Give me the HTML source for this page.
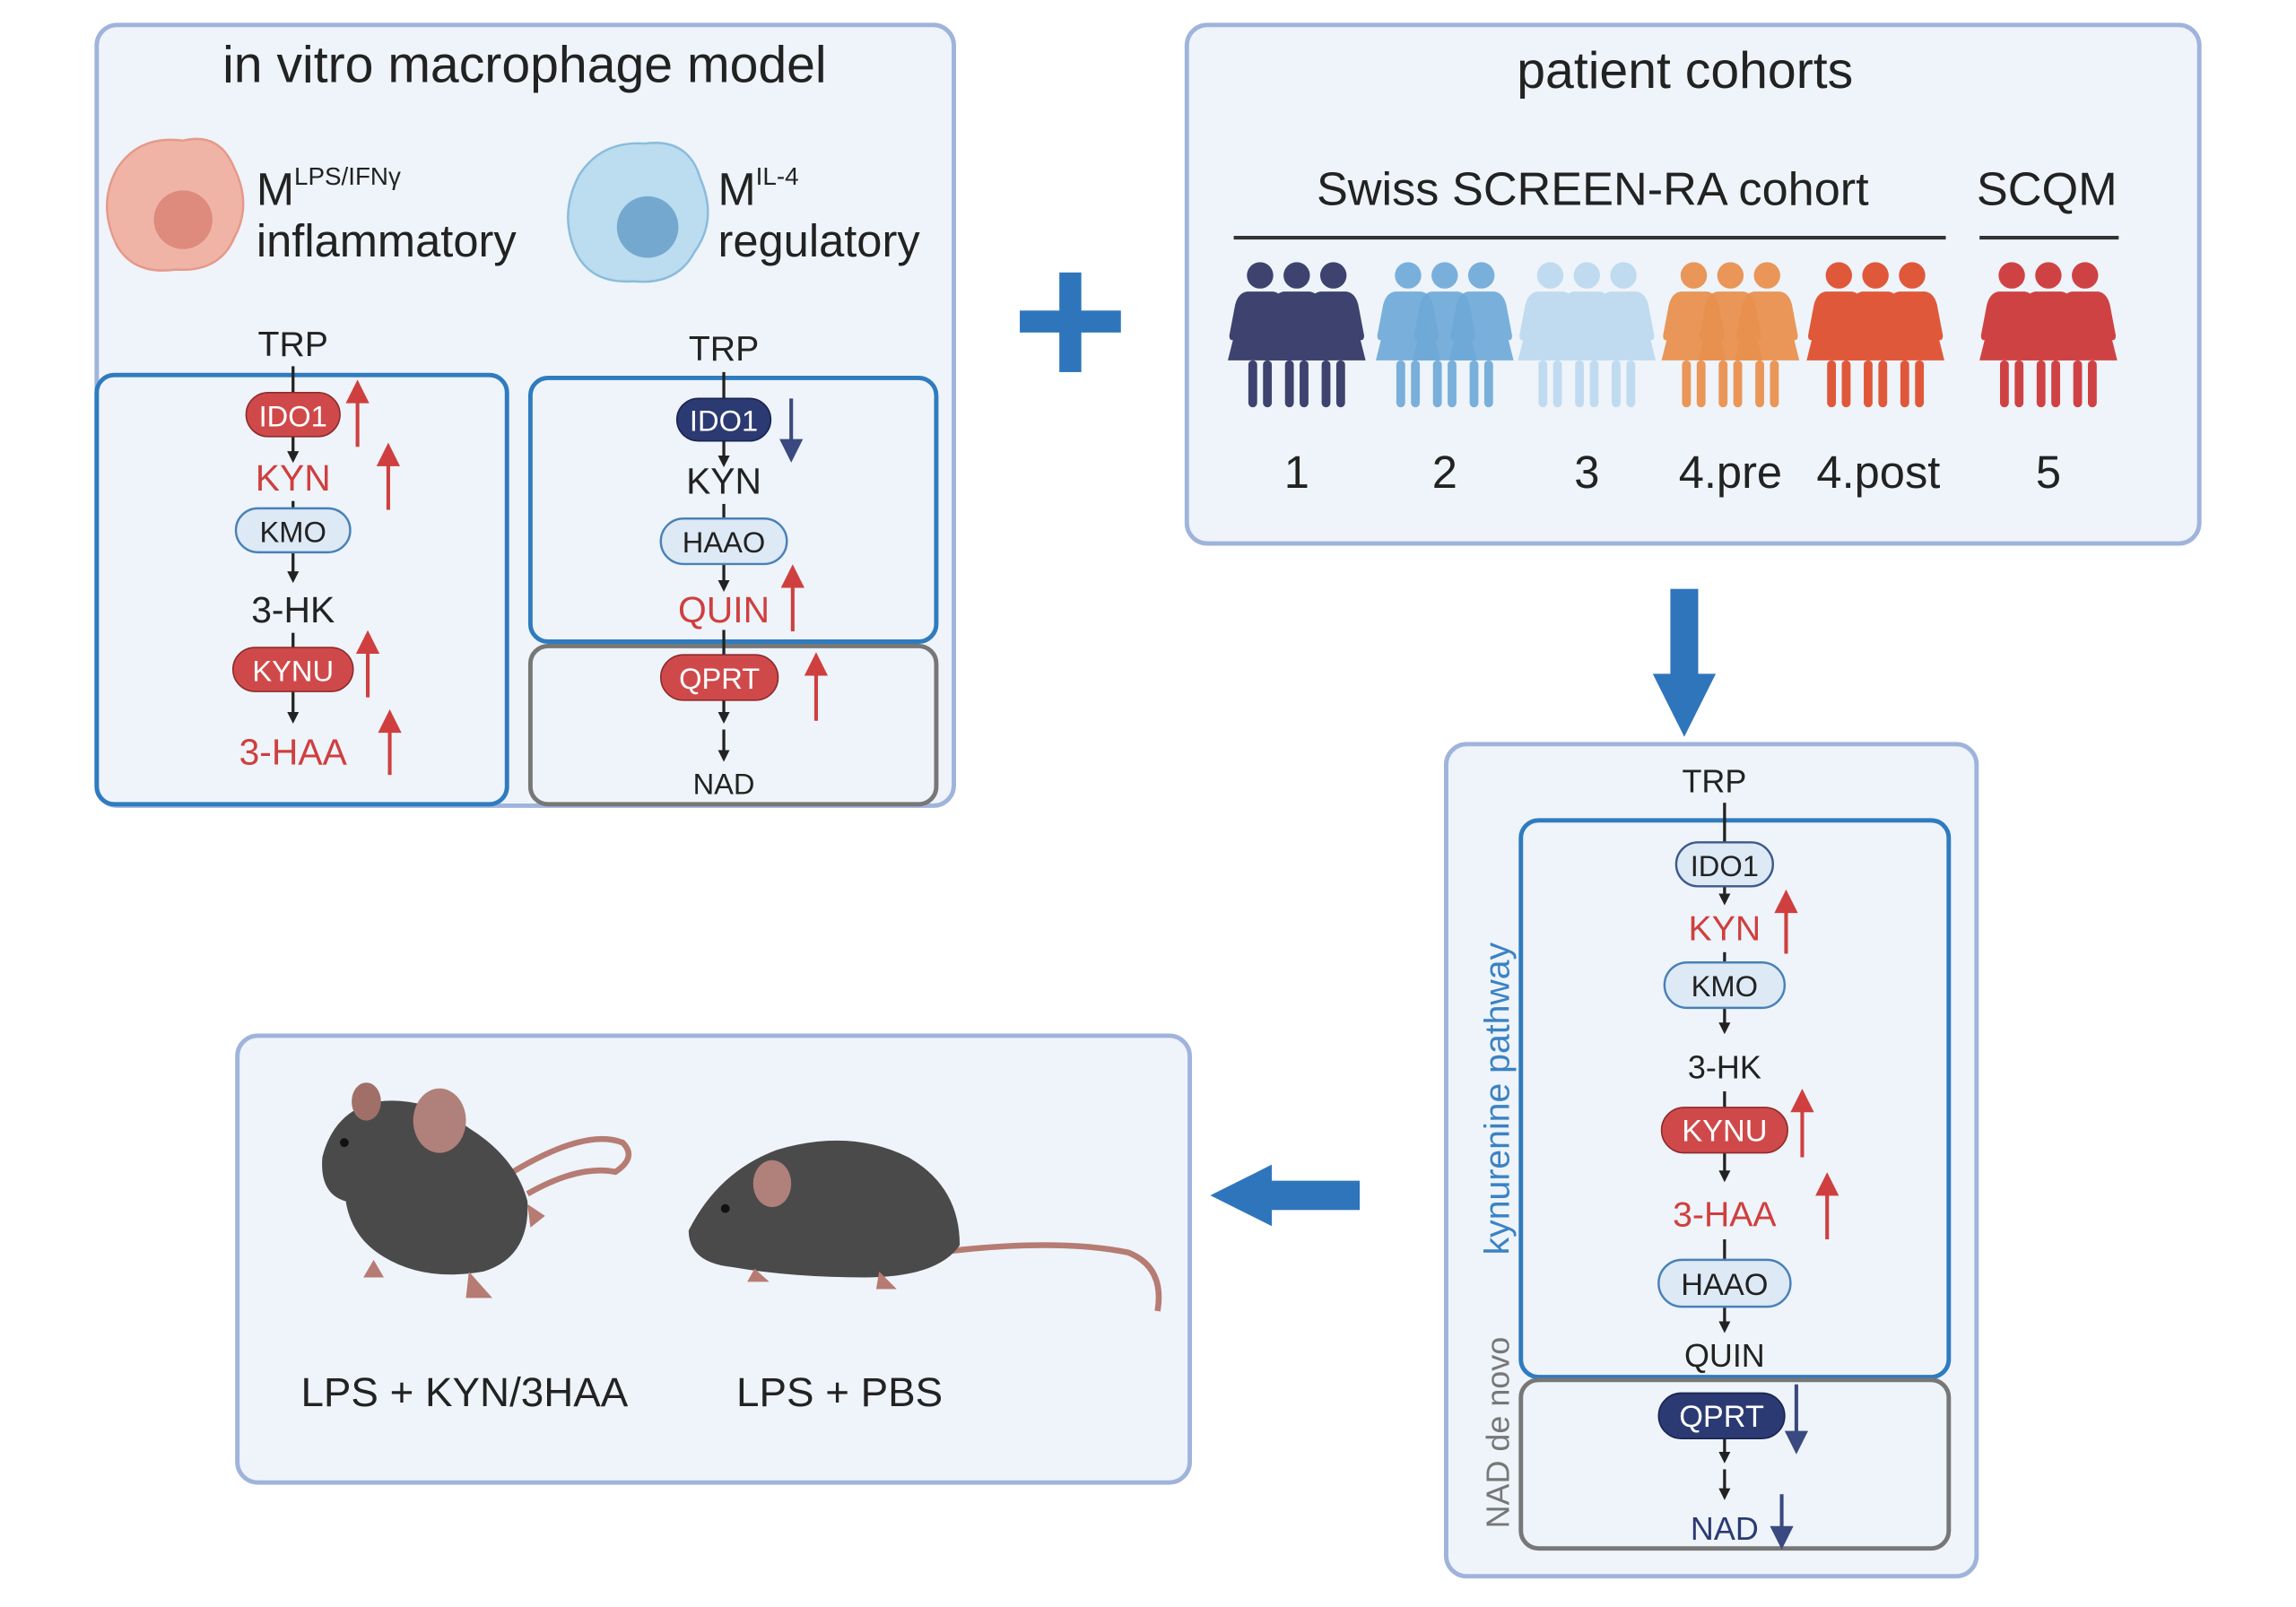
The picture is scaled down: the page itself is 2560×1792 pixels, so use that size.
<!DOCTYPE html>
<html><head><meta charset="utf-8"><style>
html,body{margin:0;padding:0;background:#fff;}
svg{display:block;}
text{font-family:"Liberation Sans",sans-serif;}
</style></head><body>
<svg width="2560" height="1792" viewBox="0 0 1567 1097" preserveAspectRatio="none" xmlns="http://www.w3.org/2000/svg">
<defs>
<marker id="ah" markerWidth="8" markerHeight="8" refX="4" refY="4" orient="auto" markerUnits="userSpaceOnUse"><path d="M0,0 L8,4 L0,8z" fill="#222"/></marker>
<g id="girl">
<circle cx="0" cy="-38" r="9"/>
<path d="M-9,-27 L9,-27 Q15,-26 17,-18 L21,3 Q21,7 18,6 L14,-12 L22,20 L-22,20 L-14,-12 L-18,6 Q-21,7 -21,3 L-17,-18 Q-15,-26 -9,-27z"/>
<rect x="-8" y="20" width="6" height="32" rx="3"/>
<rect x="2" y="20" width="6" height="32" rx="3"/>
</g>
</defs>
<rect width="1567" height="1097" fill="#fff"/>

<!-- Panel 1 -->
<rect x="66" y="17" width="585" height="533" rx="14" fill="#eef4f9" stroke="#9fb3dc" stroke-width="3"/>
<text x="358" y="56" font-size="35" text-anchor="middle" fill="#222">in vitro macrophage model</text>
<path d="M80,115 Q95,92 125,96 Q150,90 160,115 Q172,140 160,162 Q150,186 120,184 Q92,188 80,168 Q66,140 80,115z" fill="#f0b4a6" stroke="#e5998a" stroke-width="1.5"/>
<circle cx="125" cy="150" r="20" fill="#de8a7c"/>
<path d="M395,120 Q410,96 440,98 Q470,94 478,122 Q490,150 474,172 Q462,195 432,192 Q402,194 392,170 Q382,145 395,120z" fill="#bcdcef" stroke="#89bcdc" stroke-width="1.5"/>
<circle cx="442" cy="155" r="21" fill="#74a8cf"/>
<text x="175" y="140" font-size="31" fill="#222">M<tspan font-size="17" dy="-14">LPS/IFNγ</tspan></text>
<text x="175" y="175" font-size="31" fill="#222">inflammatory</text>
<text x="490" y="140" font-size="31" fill="#222">M<tspan font-size="17" dy="-14">IL-4</tspan></text>
<text x="490" y="175" font-size="31" fill="#222">regulatory</text>

<!-- left pathway -->
<text x="200" y="243" font-size="24" text-anchor="middle" fill="#222">TRP</text>
<rect x="66" y="256" width="280" height="293" rx="12" fill="none" stroke="#2f7bbf" stroke-width="3"/>
<g stroke="#222" stroke-width="2">
<line x1="200" y1="250" x2="200" y2="270"/>
<line x1="200" y1="298" x2="200" y2="312" marker-end="url(#ah)"/>
<line x1="200" y1="342" x2="200" y2="350"/>
<line x1="200" y1="377" x2="200" y2="394" marker-end="url(#ah)"/>
<line x1="200" y1="432" x2="200" y2="442"/>
<line x1="200" y1="472" x2="200" y2="490" marker-end="url(#ah)"/>
</g>
<rect x="168" y="268" width="64" height="30" rx="15" fill="#d0494a" stroke="#8d2b2b"/>
<text x="200" y="291" font-size="20" text-anchor="middle" fill="#fff">IDO1</text>
<text x="200" y="335" font-size="25" text-anchor="middle" fill="#cf3f3f">KYN</text>
<rect x="161" y="347" width="78" height="30" rx="15" fill="#dde9f5" stroke="#4a80b8" stroke-width="1.5"/>
<text x="200" y="370" font-size="20" text-anchor="middle" fill="#222">KMO</text>
<text x="200" y="425" font-size="25" text-anchor="middle" fill="#222">3-HK</text>
<rect x="159" y="442" width="82" height="30" rx="15" fill="#d0494a" stroke="#8d2b2b"/>
<text x="200" y="465" font-size="20" text-anchor="middle" fill="#fff">KYNU</text>
<text x="200" y="522" font-size="25" text-anchor="middle" fill="#cf3f3f">3-HAA</text>

<!-- right pathway -->
<text x="494" y="246" font-size="24" text-anchor="middle" fill="#222">TRP</text>
<rect x="362" y="258" width="277" height="180" rx="12" fill="none" stroke="#2f7bbf" stroke-width="3"/>
<rect x="362" y="441" width="277" height="108" rx="12" fill="none" stroke="#777" stroke-width="3"/>
<g stroke="#222" stroke-width="2">
<line x1="494" y1="254" x2="494" y2="272"/>
<line x1="494" y1="301" x2="494" y2="315" marker-end="url(#ah)"/>
<line x1="494" y1="344" x2="494" y2="354"/>
<line x1="494" y1="385" x2="494" y2="400" marker-end="url(#ah)"/>
<line x1="494" y1="430" x2="494" y2="447"/>
<line x1="494" y1="478" x2="494" y2="490" marker-end="url(#ah)"/>
<line x1="494" y1="498" x2="494" y2="516" marker-end="url(#ah)"/>
</g>
<rect x="462" y="272" width="64" height="29" rx="14.5" fill="#2c3a73" stroke="#1a2450"/>
<text x="494" y="294" font-size="20" text-anchor="middle" fill="#fff">IDO1</text>
<text x="494" y="337" font-size="25" text-anchor="middle" fill="#222">KYN</text>
<rect x="451" y="354" width="86" height="31" rx="15.5" fill="#dde9f5" stroke="#4a80b8" stroke-width="1.5"/>
<text x="494" y="377" font-size="20" text-anchor="middle" fill="#222">HAAO</text>
<text x="494" y="425" font-size="25" text-anchor="middle" fill="#cf3f3f">QUIN</text>
<rect x="451" y="447" width="80" height="31" rx="15.5" fill="#d0494a" stroke="#8d2b2b"/>
<text x="491" y="470" font-size="20" text-anchor="middle" fill="#fff">QPRT</text>
<text x="494" y="542" font-size="20" text-anchor="middle" fill="#222">NAD</text>

<g stroke="#cf3f3f" stroke-width="2.5" fill="#cf3f3f">
<line x1="244" y1="305" x2="244" y2="272"/><path d="M238,274 L244,262 L250,274z"/>
<line x1="265" y1="348" x2="265" y2="315"/><path d="M259,317 L265,305 L271,317z"/>
<line x1="251" y1="476" x2="251" y2="443"/><path d="M245,445 L251,433 L257,445z"/>
<line x1="266" y1="529" x2="266" y2="497"/><path d="M260,499 L266,487 L272,499z"/>
<line x1="541" y1="431" x2="541" y2="398"/><path d="M535,400 L541,388 L547,400z"/>
<line x1="557" y1="492" x2="557" y2="458"/><path d="M551,460 L557,448 L563,460z"/>
</g>
<g stroke="#3a4a80" stroke-width="2.5" fill="#3a4a80">
<line x1="540" y1="272" x2="540" y2="303"/><path d="M534,301 L540,313 L546,301z"/>
</g>

<!-- plus -->
<rect x="696" y="212" width="69" height="15" fill="#2f75bb"/>
<rect x="723" y="186" width="15" height="68" fill="#2f75bb"/>

<!-- Panel 2 -->
<rect x="810" y="17" width="691" height="354" rx="14" fill="#eef4f9" stroke="#9fb3dc" stroke-width="3"/>
<text x="1150" y="60" font-size="35" text-anchor="middle" fill="#222">patient cohorts</text>
<text x="1087" y="140" font-size="32" text-anchor="middle" fill="#222">Swiss SCREEN-RA cohort</text>
<text x="1397" y="140" font-size="32" text-anchor="middle" fill="#222">SCQM</text>
<rect x="842" y="161" width="486" height="2.5" fill="#333"/>
<rect x="1351" y="161" width="95" height="2.5" fill="#333"/>
<g fill="#3d426e"><use href="#girl" x="860" y="226"/><use href="#girl" x="885" y="226"/><use href="#girl" x="910" y="226"/></g>
<g fill="#6fa8d8" fill-opacity="0.92"><use href="#girl" x="961" y="226"/><use href="#girl" x="986" y="226"/><use href="#girl" x="1011" y="226"/></g>
<g fill="#c0dbf0"><use href="#girl" x="1058" y="226"/><use href="#girl" x="1083" y="226"/><use href="#girl" x="1108" y="226"/></g>
<g fill="#e8904f" fill-opacity="0.95"><use href="#girl" x="1156" y="226"/><use href="#girl" x="1181" y="226"/><use href="#girl" x="1206" y="226"/></g>
<g fill="#e0583a"><use href="#girl" x="1255" y="226"/><use href="#girl" x="1280" y="226"/><use href="#girl" x="1305" y="226"/></g>
<g fill="#cf4244"><use href="#girl" x="1373" y="226"/><use href="#girl" x="1398" y="226"/><use href="#girl" x="1423" y="226"/></g>
<g font-size="31" text-anchor="middle" fill="#222">
<text x="885" y="333">1</text><text x="986" y="333">2</text><text x="1083" y="333">3</text>
<text x="1181" y="333">4.pre</text><text x="1282" y="333">4.post</text><text x="1398" y="333">5</text>
</g>

<!-- down arrow -->
<rect x="1140" y="402" width="19" height="60" fill="#2f75bb"/>
<path d="M1128,460 L1171,460 L1149.5,503z" fill="#2f75bb"/>

<!-- Panel 3 -->
<rect x="987" y="508" width="362" height="568" rx="14" fill="#eef4f9" stroke="#9fb3dc" stroke-width="3"/>
<text x="1170" y="541" font-size="22" text-anchor="middle" fill="#222">TRP</text>
<rect x="1038" y="560" width="292" height="380" rx="12" fill="none" stroke="#2f7bbf" stroke-width="3"/>
<rect x="1038" y="942" width="292" height="115" rx="12" fill="none" stroke="#777" stroke-width="3"/>
<text transform="translate(1030,750) rotate(-90)" font-size="24" text-anchor="middle" fill="#3b82c4">kynurenine pathway</text>
<text transform="translate(1030,978) rotate(-90)" font-size="22" text-anchor="middle" fill="#777">NAD de novo</text>
<g stroke="#222" stroke-width="2">
<line x1="1177" y1="548" x2="1177" y2="576"/>
<line x1="1177" y1="605" x2="1177" y2="614" marker-end="url(#ah)"/>
<line x1="1177" y1="650" x2="1177" y2="658"/>
<line x1="1177" y1="688" x2="1177" y2="702" marker-end="url(#ah)"/>
<line x1="1177" y1="745" x2="1177" y2="756"/>
<line x1="1177" y1="787" x2="1177" y2="803" marker-end="url(#ah)"/>
<line x1="1177" y1="846" x2="1177" y2="860"/>
<line x1="1177" y1="892" x2="1177" y2="906" marker-end="url(#ah)"/>
<line x1="1177" y1="982" x2="1177" y2="995" marker-end="url(#ah)"/>
<line x1="1177" y1="1003" x2="1177" y2="1020" marker-end="url(#ah)"/>
</g>
<rect x="1144" y="575" width="66" height="30" rx="15" fill="#dde9f5" stroke="#3c5a8c" stroke-width="1.5"/>
<text x="1177" y="598" font-size="20" text-anchor="middle" fill="#222">IDO1</text>
<text x="1177" y="642" font-size="24" text-anchor="middle" fill="#cf3f3f">KYN</text>
<rect x="1136" y="657" width="82" height="31" rx="15.5" fill="#dde9f5" stroke="#4a80b8" stroke-width="1.5"/>
<text x="1177" y="680" font-size="20" text-anchor="middle" fill="#222">KMO</text>
<text x="1177" y="736" font-size="22" text-anchor="middle" fill="#222">3-HK</text>
<rect x="1134" y="756" width="86" height="31" rx="15.5" fill="#d0494a" stroke="#8d2b2b"/>
<text x="1177" y="779" font-size="21" text-anchor="middle" fill="#fff">KYNU</text>
<text x="1177" y="837" font-size="24" text-anchor="middle" fill="#cf3f3f">3-HAA</text>
<rect x="1132" y="860" width="90" height="32" rx="16" fill="#dde9f5" stroke="#4a80b8" stroke-width="1.5"/>
<text x="1177" y="884" font-size="21" text-anchor="middle" fill="#222">HAAO</text>
<text x="1177" y="933" font-size="22" text-anchor="middle" fill="#222">QUIN</text>
<rect x="1132" y="951" width="86" height="31" rx="15.5" fill="#2c3a73" stroke="#1a2450"/>
<text x="1175" y="974" font-size="21" text-anchor="middle" fill="#fff">QPRT</text>
<text x="1177" y="1051" font-size="22" text-anchor="middle" fill="#2c3a73">NAD</text>
<g stroke="#cf3f3f" stroke-width="2.5" fill="#cf3f3f">
<line x1="1219" y1="651" x2="1219" y2="620"/><path d="M1213,622 L1219,610 L1225,622z"/>
<line x1="1230" y1="790" x2="1230" y2="756"/><path d="M1224,758 L1230,746 L1236,758z"/>
<line x1="1247" y1="846" x2="1247" y2="813"/><path d="M1241,815 L1247,803 L1253,815z"/>
</g>
<g stroke="#3a4a80" stroke-width="2.5" fill="#3a4a80">
<line x1="1226" y1="945" x2="1226" y2="980"/><path d="M1220,978 L1226,990 L1232,978z"/>
<line x1="1216" y1="1020" x2="1216" y2="1045"/><path d="M1210,1043 L1216,1055 L1222,1043z"/>
</g>

<!-- left arrow -->
<rect x="866" y="806" width="62" height="20" fill="#2f75bb"/>
<path d="M868,795 L868,837 L826,816z" fill="#2f75bb"/>

<!-- Panel 4 -->
<rect x="162" y="707" width="650" height="305" rx="14" fill="#eef4f9" stroke="#9fb3dc" stroke-width="3"/>
<path d="M350,800 Q400,770 425,780 Q435,790 420,800 Q395,795 360,815" fill="none" stroke="#b67b73" stroke-width="4"/>
<path d="M220,790 Q228,758 258,752 Q290,748 320,770 Q352,790 360,820 Q362,858 330,868 Q290,875 262,858 Q240,845 236,820 Q218,815 220,790z" fill="#4a4a4a"/>
<ellipse cx="300" cy="765" rx="18" ry="22" fill="#b0807a"/>
<ellipse cx="250" cy="752" rx="10" ry="13" fill="#a07068"/>
<circle cx="235" cy="780" r="3" fill="#111"/>
<path d="M255,860 L248,872 L262,872z M320,868 L318,886 L336,886z M360,822 L372,830 L362,838z" fill="#b67b73"/>
<path d="M640,855 Q720,845 770,855 Q795,865 790,895" fill="none" stroke="#b67b73" stroke-width="4"/>
<path d="M470,840 Q490,800 530,785 Q580,770 620,790 Q655,810 655,850 Q640,872 590,872 Q540,872 500,865 Q470,862 470,840z" fill="#4a4a4a"/>
<ellipse cx="527" cy="808" rx="13" ry="16" fill="#b0807a"/>
<circle cx="495" cy="825" r="3" fill="#111"/>
<path d="M515,866 L510,875 L525,875z M600,868 L598,880 L612,880z" fill="#b67b73"/>
<text x="317" y="960" font-size="28" text-anchor="middle" fill="#222">LPS + KYN/3HAA</text>
<text x="573" y="960" font-size="28" text-anchor="middle" fill="#222">LPS + PBS</text>
</svg>
</body></html>
